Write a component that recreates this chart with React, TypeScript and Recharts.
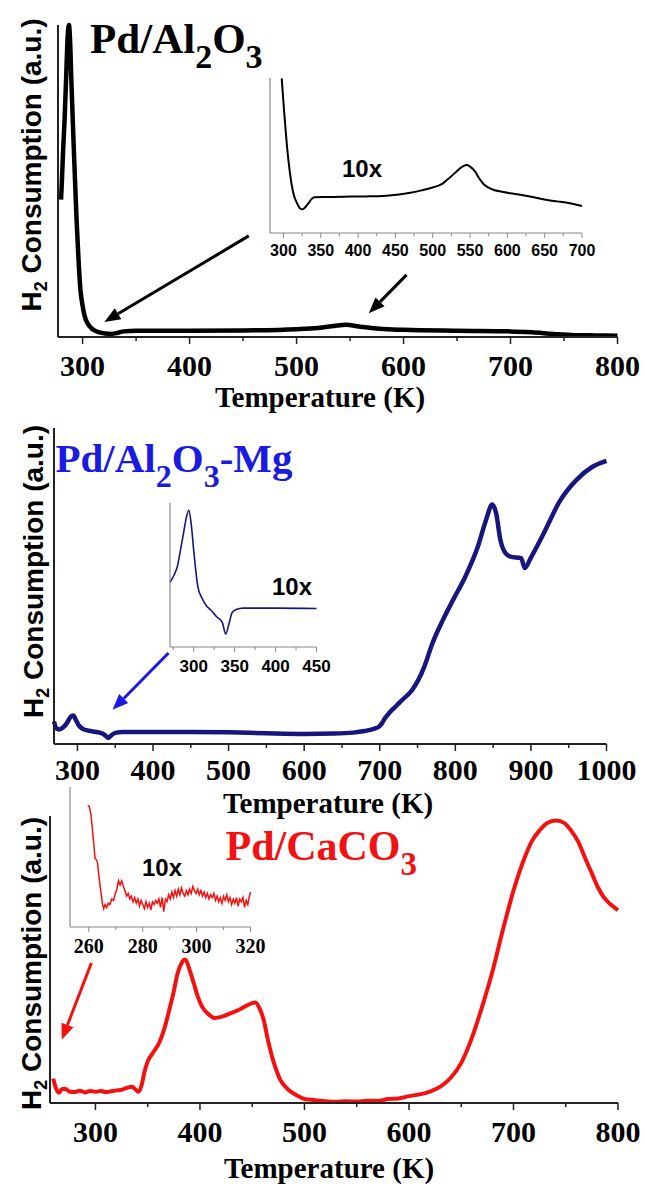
import { LineChart, Line, XAxis, YAxis, ReferenceLine } from "recharts";

const SERIF = "'Liberation Serif', 'Times New Roman', serif";
const SANS = "'Liberation Sans', Arial, sans-serif";

// ---- Pd/Al2O3 ----
const alTemp = [279.8, 280.4, 281.8, 283.2, 284.8, 286, 287.2, 288.3, 289.5, 291.6, 294.3, 296, 298, 300, 302, 305, 307.7, 311, 315.5, 321, 327, 333, 338.6, 350, 400, 450, 500, 520, 535, 546, 558, 570, 585, 600, 650, 700, 720, 740, 760, 780, 800];
const alSignal = [44, 48, 60, 70, 85, 96, 100, 95, 82, 62, 38, 26, 15, 10, 6.6, 4.2, 3, 2.1, 1.5, 1.15, 1.0, 1.35, 1.8, 2.0, 2.0, 2.1, 2.5, 2.9, 3.5, 3.9, 3.4, 2.9, 2.5, 2.3, 2.0, 1.8, 1.5, 1.0, 0.6, 0.5, 0.4];
const alInsetTemp = [297.7, 300.8, 304.4, 308.8, 313.3, 318.7, 322, 325.9, 329.5, 333.4, 337, 341, 360, 380, 410, 434, 455, 470, 485, 501, 512, 519, 527, 535, 541, 546, 551, 557, 562, 568, 575, 582, 593, 604, 615, 626.6, 640, 653.4, 667, 680, 690, 700];
const alInsetSignal = [99.8, 79, 57.8, 38.5, 25.6, 18.7, 16, 15.3, 16.8, 19.1, 21.5, 23, 23.2, 23.4, 23.6, 23.9, 24.8, 26, 27.5, 29.5, 31.5, 34.2, 37.5, 41, 43.2, 43.9, 42.5, 39.5, 35.5, 31.6, 29.2, 27.7, 26.6, 25.6, 24.8, 23.9, 22.6, 21.3, 20.4, 19.5, 18.6, 17.4];
const alTicks = [300, 350, 400, 450, 500, 550, 600, 650, 700, 750, 800];
const alLabels = [300, 400, 500, 600, 700, 800];
const alInsetTicks = [300, 325, 350, 375, 400, 425, 450, 475, 500, 525, 550, 575, 600, 625, 650, 675, 700];
const alInsetLabels = [300, 350, 400, 450, 500, 550, 600, 650, 700];
const alArrows = [
  [{ x: 455.3, y: 32.4 }, { x: 320.3, y: 4.8 }],
  [{ x: 602.8, y: 19.9 }, { x: 567.5, y: 7.6 }],
];

// ---- Pd/Al2O3-Mg ----
const mgTemp = [269, 272, 276, 281, 286, 291, 294.5, 298, 302, 307, 315, 325, 333, 338, 341, 345, 350, 360, 400, 450, 500, 550, 600, 640, 665, 680, 692, 699, 703, 707, 712.5, 720.7, 730, 742.6, 759, 769.7, 783.4, 797, 813.3, 829.7, 840.6, 848.8, 854, 859.6, 865, 873, 887, 892, 900, 917, 938.6, 960, 982, 1000];
const mgSignal = [7.1, 5.0, 4.6, 5.2, 6.6, 8.6, 9.0, 7.6, 5.8, 4.8, 4.2, 3.8, 3.3, 2.5, 1.9, 2.8, 3.5, 3.8, 3.8, 3.8, 3.7, 3.4, 3.2, 3.3, 3.6, 4.1, 4.8, 5.5, 6.6, 8.2, 9.8, 11.8, 14, 17, 24.5, 31.9, 39.2, 45.6, 53, 62.4, 70.9, 75.8, 73, 64.6, 60.9, 59.3, 58.8, 55.7, 59, 66.7, 77, 83.5, 87.8, 89.6];
const mgInsetTemp = [271, 276, 280, 284, 287.5, 291, 294, 297, 300, 305, 310, 315, 322, 328, 335, 339, 343, 347, 352, 360, 400, 450];
const mgInsetSignal = [45, 50, 56, 68, 79, 90, 95, 85, 67, 42, 34, 29, 25, 21, 17, 9, 16, 24, 26, 27, 27, 26.7];
const mgTicks = [300, 350, 400, 450, 500, 550, 600, 650, 700, 750, 800, 850, 900, 950, 1000];
const mgLabels = [300, 400, 500, 600, 700, 800, 900, 1000];
const mgInsetTicks = [275, 300, 325, 350, 375, 400, 425, 450];
const mgInsetLabels = [300, 350, 400, 450];
const mgArrows = [[{ x: 420.5, y: 28.8 }, { x: 346.4, y: 10.8 }]];

// ---- Pd/CaCO3 ----
const caTemp = [259.6, 261, 263, 265, 268, 271, 275, 280, 285, 290, 295, 300, 305, 310, 315, 320, 325, 330, 335, 338, 341, 344, 347, 350, 355, 361, 366, 370.6, 375, 378.5, 382, 386, 390, 394, 398, 402, 408, 414, 422, 430, 438, 445.5, 450, 453, 457, 461, 465, 469, 473, 477, 483, 488.6, 495, 500, 510, 520, 530, 540, 550, 560, 570, 580, 590, 600, 610, 620, 630, 640, 650, 660, 670, 680, 689.6, 700, 711, 718, 725, 732, 740.8, 748.7, 755, 762, 768, 775, 781, 786, 792, 800];
const caSignal = [8.5, 6.5, 4.5, 3.6, 4.8, 5.0, 4.0, 3.8, 4.3, 3.7, 4.2, 3.9, 4.2, 3.8, 4.1, 4.4, 4.6, 5.3, 5.7, 4.8, 3.9, 6, 11, 14.5, 17.5, 21, 26, 32.4, 39, 45, 48.5, 50, 46.5, 41.8, 37, 33.6, 31, 29.6, 30.2, 31.4, 32.6, 34.1, 34.8, 35, 33, 28.9, 22, 16.1, 11.5, 8, 5.2, 3.5, 2.2, 1.4, 1.0, 0.6, 0.4, 0.6, 0.5, 0.8, 0.7, 1.4, 1.6, 2.4, 3.0, 4.0, 5.7, 8.8, 14, 22.5, 33.6, 46, 60, 74, 85.8, 91.5, 95, 97.5, 98.4, 97.5, 95, 91, 85.8, 80, 75, 71.9, 69.5, 67.2];
const caInsetTemp = [259.6, 260.2, 260.8, 261.3, 261.8, 262.3, 262.8, 263.2, 263.8, 264.4, 265, 265.5, 266, 266.6, 267.2, 267.8, 268.5, 269.2, 269.8, 270.4, 271, 271.6, 272.2, 272.8, 273.4, 274, 274.6, 275.2, 275.8, 276.4, 277, 277.6, 278.2, 278.8, 279.4, 280, 280.6, 281.2, 281.8, 282.4, 283, 283.6, 284.2, 284.8, 285.4, 286, 286.6, 287.2, 287.8, 288.4, 289, 289.6, 290.2, 290.8, 291.4, 292, 292.6, 293.2, 293.8, 294.4, 295, 295.6, 296.2, 296.8, 297.4, 298, 298.6, 299.2, 299.8, 300.4, 301, 301.6, 302.2, 302.8, 303.4, 304, 304.6, 305.2, 305.8, 306.4, 307, 307.6, 308.2, 308.8, 309.4, 310, 310.6, 311.2, 311.8, 312.4, 313, 313.6, 314.2, 314.8, 315.4, 316, 316.6, 317.2, 317.8, 318.4, 319, 319.6, 320];
const caInsetSignal = [87, 86, 80, 70, 60, 49, 48, 46, 35, 26, 17, 13, 16, 14, 17, 16, 20, 19, 24, 27, 33, 30, 33, 29, 26, 22, 24, 20, 22, 18, 21, 17, 20, 15, 19, 16, 13, 18, 14, 17, 12, 18, 16, 19, 17, 20, 14, 21, 11, 20, 18, 23, 20, 25, 21, 26, 22, 27, 23, 28, 24, 22, 26, 23, 27, 24, 29, 26, 24, 27, 23, 26, 22, 25, 21, 24, 20, 23, 21, 24, 19, 22, 18, 21, 17, 22, 19, 23, 18, 21, 16, 20, 17, 21, 15, 20, 18, 21, 14, 19, 16, 22, 25];
const caTicks = [300, 350, 400, 450, 500, 550, 600, 650, 700, 750, 800];
const caLabels = [300, 400, 500, 600, 700, 800];
const caInsetTicks = [260, 270, 280, 290, 300, 310, 320];
const caInsetLabels = [260, 280, 300, 320];
const caArrows = [[{ x: 296.1, y: 48.8 }, { x: 267.7, y: 22 }]];

const rows = (t: number[], v: number[]) => t.map((x, i) => ({ t: x, v: v[i] }));

type TickStyle = {
  labels: number[];
  family: string;
  size: number;
  gap: number;
  majorLen: number;
  minorLen: number;
  color: string;
  lineWidth: number;
};

function makeTick(s: TickStyle) {
  return (props: any) => {
    const { x, y, payload } = props;
    const major = s.labels.includes(payload.value);
    return (
      <g>
        <line x1={x} x2={x} y1={y} y2={y + (major ? s.majorLen : s.minorLen)} stroke={s.color} strokeWidth={s.lineWidth} />
        {major && (
          <text x={x} y={y + s.gap} textAnchor="middle" fontFamily={s.family} fontWeight="bold" fontSize={s.size} fill="#000">
            {payload.value}
          </text>
        )}
      </g>
    );
  };
}

function arrowShape(color: string, width: number, head: number) {
  return (p: any) => {
    const { x1, y1, x2, y2 } = p;
    const a = Math.atan2(y2 - y1, x2 - x1);
    const bx = x2 - head * Math.cos(a);
    const by = y2 - head * Math.sin(a);
    const hw = head * 0.4;
    const pts = `${x2},${y2} ${bx + hw * Math.sin(a)},${by - hw * Math.cos(a)} ${bx - hw * Math.sin(a)},${by + hw * Math.cos(a)}`;
    return (
      <g>
        <line x1={x1} y1={y1} x2={bx} y2={by} stroke={color} strokeWidth={width} />
        <polygon points={pts} fill={color} />
      </g>
    );
  };
}

type Rect = { l: number; t: number; r: number; b: number };

interface PlotProps {
  rect: Rect;
  data: { t: number; v: number }[];
  xDomain: [number, number];
  ticks: number[];
  tickStyle: TickStyle;
  color: string;
  lineWidth: number;
  axisColor: string;
  axisWidth: number;
  linear?: boolean;
  arrows?: { x: number; y: number }[][];
  arrowColor?: string;
}

const PAD = { top: 12, left: 40, right: 40, bottom: 50 };

function Plot(p: PlotProps) {
  const w = p.rect.r - p.rect.l + PAD.left + PAD.right;
  const h = p.rect.b - p.rect.t + PAD.top + PAD.bottom;
  return (
    <div style={{ position: "absolute", left: p.rect.l - PAD.left, top: p.rect.t - PAD.top }}>
      <LineChart width={w} height={h} data={p.data} margin={{ top: PAD.top, right: PAD.right, bottom: 0, left: PAD.left - 10 }}>
        <XAxis
          type="number"
          dataKey="t"
          domain={p.xDomain}
          ticks={p.ticks}
          interval={0}
          height={PAD.bottom}
          tickSize={0}
          tickMargin={0}
          tickLine={false}
          tick={makeTick(p.tickStyle)}
          axisLine={{ stroke: p.axisColor, strokeWidth: p.axisWidth }}
        />
        <YAxis type="number" domain={[0, 100]} width={10} tick={false} tickLine={false} axisLine={{ stroke: p.axisColor, strokeWidth: p.axisWidth }} />
        <Line dataKey="v" type={p.linear ? "linear" : "monotone"} stroke={p.color} strokeWidth={p.lineWidth} dot={false} isAnimationActive={false} />
        {(p.arrows ?? []).map((seg, i) => (
          <ReferenceLine key={i} segment={seg} ifOverflow="visible" shape={arrowShape(p.arrowColor ?? "#000", 3, 16)} />
        ))}
      </LineChart>
    </div>
  );
}

const mainTick = (labels: number[], gap: number): TickStyle => ({ labels, family: SERIF, size: 30, gap, majorLen: 7, minorLen: 4, color: "#222", lineWidth: 1.5 });

function YLabel({ x, y }: { x: number; y: number }) {
  return (
    <text transform={`translate(${x},${y}) rotate(-90)`} textAnchor="middle" fontFamily={SANS} fontWeight="bold" fontSize={28} fill="#000">
      H<tspan fontSize={18} dy={6}>2</tspan>
      <tspan dy={-6}> Consumption (a.u.)</tspan>
    </text>
  );
}

function XLabel({ x, y }: { x: number; y: number }) {
  return (
    <text x={x} y={y} textAnchor="middle" fontFamily={SERIF} fontWeight="bold" fontSize={29} fill="#000">
      Temperature (K)
    </text>
  );
}

function TenX({ x, y }: { x: number; y: number }) {
  return (
    <text x={x} y={y} fontFamily={SANS} fontWeight="bold" fontSize={24} fill="#000">
      10x
    </text>
  );
}

export default function App() {
  const BLUE_LINE = "#16167f";
  const BLUE = "#1a1ae0";
  const RED = "#f21010";
  return (
    <div style={{ position: "absolute", left: 0, top: 0, width: 645, height: 1190, background: "#fff", overflow: "hidden" }}>
      <Plot
        rect={{ l: 57.5, t: 25, r: 617, b: 337 }}
        data={rows(alTemp, alSignal)}
        xDomain={[277, 800]}
        ticks={alTicks}
        tickStyle={mainTick(alLabels, 39)}
        color="#000"
        lineWidth={4.5}
        axisColor="#222"
        axisWidth={2}
        arrows={alArrows}
        arrowColor="#000"
      />
      <Plot
        rect={{ l: 270, t: 78, r: 582, b: 233 }}
        data={rows(alInsetTemp, alInsetSignal)}
        xDomain={[282, 700]}
        ticks={alInsetTicks}
        tickStyle={{ labels: alInsetLabels, family: SANS, size: 16, gap: 23, majorLen: 5, minorLen: 3, color: "#888", lineWidth: 1 }}
        color="#000"
        lineWidth={2}
        axisColor="#888"
        axisWidth={1.2}
      />
      <Plot
        rect={{ l: 53.5, t: 428, r: 606, b: 744 }}
        data={rows(mgTemp, mgSignal)}
        xDomain={[269, 1000]}
        ticks={mgTicks}
        tickStyle={mainTick(mgLabels, 36)}
        color={BLUE_LINE}
        lineWidth={4.5}
        axisColor="#222"
        axisWidth={2}
        arrows={mgArrows}
        arrowColor={BLUE}
      />
      <Plot
        rect={{ l: 169.5, t: 503, r: 316, b: 647 }}
        data={rows(mgInsetTemp, mgInsetSignal)}
        xDomain={[271, 450]}
        ticks={mgInsetTicks}
        tickStyle={{ labels: mgInsetLabels, family: SANS, size: 17, gap: 25, majorLen: 5, minorLen: 3, color: "#888", lineWidth: 1 }}
        color={BLUE_LINE}
        lineWidth={1.6}
        axisColor="#888"
        axisWidth={1.2}
      />
      <Plot
        rect={{ l: 50, t: 816, r: 618, b: 1103 }}
        data={rows(caTemp, caSignal)}
        xDomain={[256.5, 800]}
        ticks={caTicks}
        tickStyle={mainTick(caLabels, 39)}
        color={RED}
        lineWidth={4}
        axisColor="#222"
        axisWidth={2}
        arrows={caArrows}
        arrowColor={RED}
      />
      <Plot
        rect={{ l: 69.5, t: 787, r: 250, b: 927 }}
        data={rows(caInsetTemp, caInsetSignal)}
        xDomain={[253, 320]}
        ticks={caInsetTicks}
        tickStyle={{ labels: caInsetLabels, family: SERIF, size: 20, gap: 26, majorLen: 5, minorLen: 3, color: "#888", lineWidth: 1 }}
        color={RED}
        lineWidth={1.5}
        axisColor="#888"
        axisWidth={1.2}
        linear
      />
      <svg width={645} height={1190} style={{ position: "absolute", left: 0, top: 0, pointerEvents: "none" }}>
        <text x={90} y={53} fontFamily={SERIF} fontWeight="bold" fontSize={43} fill="#000">
          Pd/Al<tspan fontSize={34} dy={15}>2</tspan>
          <tspan dy={-15}>O</tspan>
          <tspan fontSize={34} dy={15}>3</tspan>
        </text>
        <text x={55.5} y={472} fontFamily={SERIF} fontWeight="bold" fontSize={41} fill={BLUE}>
          Pd/Al<tspan fontSize={32} dy={15}>2</tspan>
          <tspan dy={-15}>O</tspan>
          <tspan fontSize={32} dy={15}>3</tspan>
          <tspan dy={-15}>-Mg</tspan>
        </text>
        <text x={225.5} y={860} fontFamily={SERIF} fontWeight="bold" fontSize={42} fill={RED}>
          Pd/CaCO<tspan fontSize={33} dy={15}>3</tspan>
        </text>
        <TenX x={342} y={177} />
        <TenX x={272} y={595} />
        <TenX x={142} y={876} />
        <YLabel x={41} y={165} />
        <YLabel x={43} y={571.5} />
        <YLabel x={41} y={963.5} />
        <XLabel x={320} y={407} />
        <XLabel x={328} y={813} />
        <XLabel x={329} y={1178} />
      </svg>
    </div>
  );
}
